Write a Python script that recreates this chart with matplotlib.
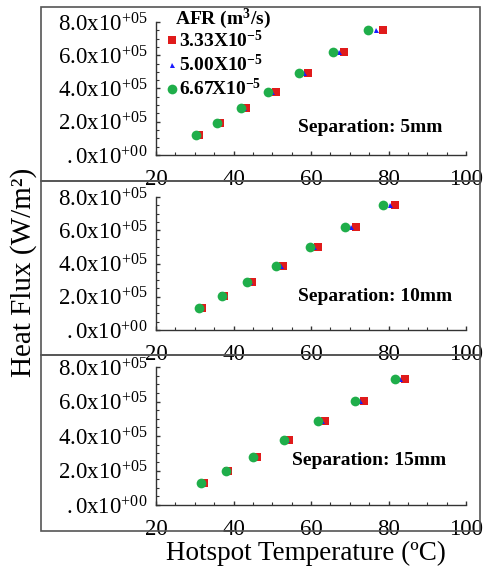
import matplotlib
matplotlib.use("Agg")
import matplotlib.pyplot as plt
from matplotlib.patches import Rectangle
from matplotlib.ticker import MultipleLocator, FuncFormatter

plt.rcParams['font.family'] = ['Liberation Serif', 'DejaVu Serif']
plt.rcParams['mathtext.fontset'] = 'custom'
plt.rcParams['mathtext.rm'] = 'Liberation Serif'
plt.rcParams['mathtext.it'] = 'Liberation Serif:italic'
plt.rcParams['mathtext.bf'] = 'Liberation Serif:bold'

# ---------------- data ----------------
afr_labels = [r'$\mathbf{3.33X10^{-5}}$', r'$\mathbf{5.00X10^{-5}}$', r'$\mathbf{6.67X10^{-5}}$']
legend_title = r'AFR (m$^\mathbf{3}$/s)'
separations = ['5mm', '10mm', '15mm']

# Heat flux levels (W/m^2) per separation panel
flux_5 = [1.20e5, 1.95e5, 2.80e5, 3.80e5, 4.95e5, 6.20e5, 7.50e5]
flux_10 = [1.30e5, 2.05e5, 2.90e5, 3.85e5, 5.00e5, 6.20e5, 7.50e5]
flux_15 = [1.30e5, 2.00e5, 2.80e5, 3.75e5, 4.85e5, 6.05e5, 7.30e5]

# Hotspot temperatures (deg C): [AFR 3.33e-5, 5.00e-5, 6.67e-5]
temp_5_a = [31.1, 36.5, 43.2, 51.0, 59.3, 68.5, 78.5]
temp_5_b = [30.6, 36.1, 42.6, 50.0, 58.2, 67.3, 76.7]
temp_5_c = [30.2, 35.7, 41.9, 49.0, 56.9, 65.8, 74.8]

temp_10_a = [31.8, 37.6, 44.8, 52.9, 61.7, 71.5, 81.8]
temp_10_b = [31.5, 37.3, 44.2, 52.2, 60.8, 70.3, 80.4]
temp_10_c = [31.2, 37.1, 43.4, 51.0, 59.7, 68.8, 78.7]

temp_15_a = [32.4, 38.7, 46.0, 54.4, 63.6, 73.7, 84.3]
temp_15_b = [32.0, 38.3, 45.6, 53.7, 62.8, 72.6, 83.0]
temp_15_c = [31.6, 38.0, 45.1, 53.0, 61.9, 71.4, 81.7]

panels = [
    (flux_5, [temp_5_a, temp_5_b, temp_5_c], separations[0]),
    (flux_10, [temp_10_a, temp_10_b, temp_10_c], separations[1]),
    (flux_15, [temp_15_a, temp_15_b, temp_15_c], separations[2]),
]

colors = ['#e01b1b', '#1a1aff', '#1fae4a']
markers = ['s', '^', 'o']
msizes = [5.2, 3.6, 7.0]

W, H = 484, 569
fig = plt.figure(figsize=(W / 100, H / 100), dpi=100)

def fx(px):
    return px / W

def fy(py):
    return 1 - py / H

# panel frames (pixel coords: top, bottom)
frames = [(7, 181), (181, 355), (355, 531)]
for t, b in frames:
    fig.add_artist(Rectangle((fx(41), fy(b)), fx(480) - fx(41), fy(t) - fy(b),
                             transform=fig.transFigure, fill=False,
                             edgecolor='#555555', linewidth=1.2))

# axes rect in pixels: (left, right, top, bottom)
axes_px = [(156, 466, 22, 155), (156, 466, 197, 330), (156, 466, 367, 505)]
text_pos = [(56.6, 1.68e5), (56.6, 2.0e5), (55.1, 2.6e5)]

def yfmt(v, pos):
    m = v / 1e5
    if abs(m) < 1e-9:
        return r'$\mathrm{.0x10^{+00}}$'
    return r'$\mathrm{%.1fx10^{+05}}$' % m

for i, ((flux, temps, sep), (l, r, t, b)) in enumerate(zip(panels, axes_px)):
    ax = fig.add_axes([fx(l), fy(b), fx(r) - fx(l), fy(t) - fy(b)])
    ax.set_facecolor('none')
    for k in range(3):
        ax.plot(temps[k], flux, linestyle='none', marker=markers[k],
                markersize=msizes[k], color=colors[k], markeredgewidth=0,
                label=afr_labels[k], zorder=3 + k)
    ax.set_xlim(20, 100)
    ax.set_ylim(0, 8e5)
    ax.spines['top'].set_visible(False)
    ax.spines['right'].set_visible(False)
    for s in ('left', 'bottom'):
        ax.spines[s].set_color('#333333')
        ax.spines[s].set_linewidth(1.0)
    ax.xaxis.set_major_locator(MultipleLocator(20))
    ax.xaxis.set_minor_locator(MultipleLocator(5))
    ax.yaxis.set_major_locator(MultipleLocator(2e5))
    ax.yaxis.set_minor_locator(MultipleLocator(0.5e5))
    ax.yaxis.set_major_formatter(FuncFormatter(yfmt))
    ax.tick_params(which='both', direction='in', color='#333333')
    ax.tick_params(which='major', length=3, width=1)
    ax.tick_params(which='minor', length=2, width=0.8)
    ax.tick_params(axis='x', which='major', labelsize=16.5, pad=10)
    ax.tick_params(axis='y', which='major', labelsize=16.5, pad=6)
    ax.text(text_pos[i][0], text_pos[i][1], 'Separation: ' + sep,
            fontsize=14, fontweight='bold', ha='left', va='center')
    if i == 0:
        fig.text(fx(175), fy(18.5), legend_title, fontsize=14, fontweight='bold',
                 ha='left', va='center')
        ax.legend(loc='upper left', bbox_to_anchor=(fx(168), fy(30)),
                  bbox_transform=fig.transFigure, frameon=False,
                  prop={'size': 14, 'weight': 'bold'},
                  handlelength=0.4, handletextpad=0.15, labelspacing=0.15,
                  borderpad=0.0, borderaxespad=0)

fig.text(fx(306), fy(553), 'Hotspot Temperature (ºC)', fontsize=19.5,
         ha='center', va='center')
fig.text(fx(24), fy(272), 'Heat Flux (W/m²)', fontsize=21, rotation=90,
         ha='center', va='center')

fig.savefig('out.png', dpi=100)
